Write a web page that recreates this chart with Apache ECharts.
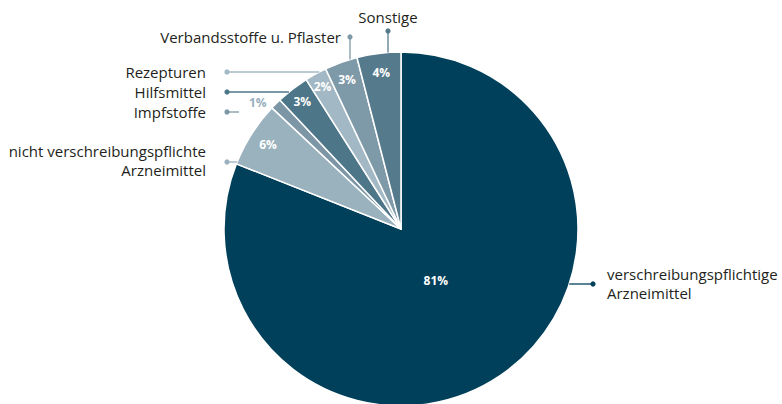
<!DOCTYPE html>
<html>
<head>
<meta charset="utf-8">
<style>
  html, body { margin: 0; padding: 0; background: #ffffff; }
  #chart { width: 782px; height: 404px; }
</style>
<script src="https://cdn.jsdelivr.net/npm/echarts@6/dist/echarts.min.js"></script>
</head>
<body>
<div id="chart"></div>
<script>
// Ausgaben nach Leistungsbereich, Anteile in Prozent (im Uhrzeigersinn ab 12 Uhr)
const categories = [
  'verschreibungspflichtige\nArzneimittel',
  'nicht verschreibungspflichte\nArzneimittel',
  'Impfstoffe',
  'Hilfsmittel',
  'Rezepturen',
  'Verbandsstoffe u. Pflaster',
  'Sonstige'
];
const shares = [81, 6, 1, 3, 2, 3, 4];
const sliceColors = ['#00405a', '#9ab1be', '#7c96a5', '#4e7689', '#a2b8c4', '#7e99a8', '#557a8c'];

// pie geometry
const CX = 401, CY = 229, R = 177;

// placement of the percentage labels: radius fraction and angular nudge (degrees)
const pctRadius = [0.35, 0.89, 1.08, 0.91, 0.92, 0.90, 0.89];
const pctNudge = [0, 0, -3.5, 0, 0, 0, 0];
const pctColor = ['#fff', '#fff', '#98afbc', '#fff', '#fff', '#fff', '#fff'];

// mid angle of each slice (radians, clockwise from 12 o'clock)
const total = shares.reduce((a, b) => a + b, 0);
const midAngles = [];
{
  let acc = 0;
  shares.forEach(v => { midAngles.push((acc + v / 2) / total * 2 * Math.PI); acc += v; });
}
const edgeX = (y, side) => CX + side * Math.sqrt(R * R - (y - CY) * (y - CY));
const edgeY = x => CY - Math.sqrt(R * R - (x - CX) * (x - CX));

// callout layout: dot position, where the leader starts, and where the name sits
const LEFT_DOT = 227, LEFT_TEXT = 206;
const callouts = [
  { dot: [593, 284], from: [edgeX(284, 1), 284], text: [607, 283], align: 'left' },
  { dot: [LEFT_DOT, 162], from: [edgeX(162, -1), 162], text: [LEFT_TEXT, 160], align: 'right' },
  { dot: [LEFT_DOT, 112], from: [239, 112], text: [LEFT_TEXT, 112], align: 'right' },
  { dot: [LEFT_DOT, 92], from: [edgeX(92, -1), 92], text: [LEFT_TEXT, 92], align: 'right' },
  { dot: [LEFT_DOT, 72], from: [edgeX(72, -1), 72], text: [LEFT_TEXT, 72], align: 'right' },
  { dot: [350, 37], from: [350, edgeY(350)], text: [341, 37], align: 'right' },
  { dot: [388, 31], from: [388, edgeY(388)], text: [388, 17], align: 'center' }
];

const FONT = '"Open Sans", "Noto Sans", sans-serif';

const chart = echarts.init(document.getElementById('chart'), null, { renderer: 'svg' });

chart.setOption({
  backgroundColor: '#ffffff',
  animation: false,
  series: [
    {
      // slices with percentage labels
      type: 'pie',
      center: [CX, CY],
      radius: [0, R],
      startAngle: 90,
      clockwise: true,
      avoidLabelOverlap: false,
      silent: true,
      itemStyle: { borderColor: '#ffffff', borderWidth: 1.5 },
      label: {
        show: true,
        position: 'inside',
        rotate: 0,
        formatter: p => Math.round(p.percent) + '%',
        fontFamily: FONT,
        fontWeight: 'bold',
        fontSize: 12
      },
      labelLine: { show: false },
      labelLayout: p => {
        const i = p.dataIndex;
        const a = midAngles[i] + pctNudge[i] * Math.PI / 180;
        const d = pctRadius[i] * R;
        return {
          x: CX + Math.sin(a) * d,
          y: CY - Math.cos(a) * d,
          align: 'center',
          verticalAlign: 'middle'
        };
      },
      data: categories.map((name, i) => ({
        name,
        value: shares[i],
        itemStyle: { color: sliceColors[i] },
        label: { color: pctColor[i] }
      }))
    },
    {
      // category names with leader lines
      type: 'pie',
      center: [CX, CY],
      radius: [0, R],
      startAngle: 90,
      clockwise: true,
      avoidLabelOverlap: false,
      silent: true,
      z: 3,
      itemStyle: { color: 'rgba(0,0,0,0)', borderWidth: 0 },
      label: {
        show: true,
        position: 'outside',
        formatter: '{b}',
        fontFamily: FONT,
        fontSize: 15,
        lineHeight: 19,
        color: '#231f20'
      },
      labelLine: { show: true, lineStyle: { width: 1.3 } },
      labelLayout: p => {
        const c = callouts[p.dataIndex];
        return {
          x: c.text[0],
          y: c.text[1],
          align: c.align,
          verticalAlign: 'middle',
          labelLinePoints: [c.from, c.dot]
        };
      },
      data: categories.map((name, i) => ({
        name,
        value: shares[i],
        labelLine: { lineStyle: { color: sliceColors[i] } }
      }))
    }
  ],
  graphic: callouts.map((c, i) => ({
    type: 'circle',
    silent: true,
    z: 10,
    shape: { cx: c.dot[0], cy: c.dot[1], r: 2.6 },
    style: { fill: sliceColors[i] }
  }))
});
</script>
</body>
</html>
